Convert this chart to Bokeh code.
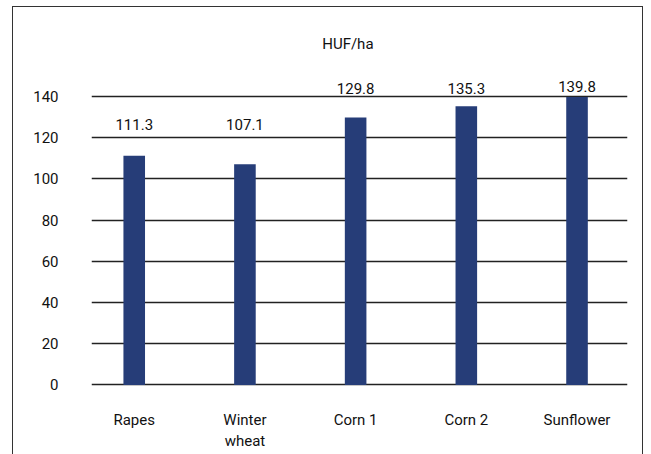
from bokeh.plotting import figure
from bokeh.models import Range1d, FixedTicker, Label, ColumnDataSource, InlineStyleSheet
from bokeh.core.properties import value
from bokeh.embed import file_html
from bokeh.resources import INLINE

categories = ["Rapes", "Winter\nwheat", "Corn 1", "Corn 2", "Sunflower"]
values = [111.3, 107.1, 129.8, 135.3, 139.8]
value_labels = ["111.3", "107.1", "129.8", "135.3", "139.8"]
y_ticks = [0, 20, 40, 60, 80, 100, 120, 140]
unit_label = "HUF/ha"

FONT = "Roboto"
FS = "15px"
TXT = "#111111"

xs = list(range(len(categories)))
lab_y = [126.5 if v < 120 else max(143.8, v + 5) for v in values]
src = ColumnDataSource(dict(x=xs, top=values, label=value_labels, ly=lab_y))

p = figure(width=651, height=454, output_backend="svg", toolbar_location=None,
           x_range=Range1d(-0.386, 4.456), y_range=Range1d(-1.7, 176.9),
           min_border_left=91, min_border_right=24, min_border_top=20, min_border_bottom=66)
p.outline_line_color = None
p.background_fill_color = "white"
p.border_fill_color = "white"

p.vbar(x="x", top="top", width=0.195, bottom=0, source=src, fill_color="#263d78", line_color=None)
p.text(x="x", y="ly", text="label", source=src, text_align="center", text_baseline="middle",
       text_font=value(FONT), text_font_size=value(FS), text_color=TXT)

p.xgrid.grid_line_color = None
p.ygrid.ticker = FixedTicker(ticks=y_ticks)
p.ygrid.grid_line_color = "#222222"
p.ygrid.grid_line_width = 1.3
p.ygrid.level = "underlay"

p.yaxis.ticker = FixedTicker(ticks=y_ticks)
p.yaxis.axis_line_color = None
p.yaxis.major_tick_line_color = None
p.yaxis.minor_tick_line_color = None
p.yaxis.major_label_standoff = 27
p.yaxis.major_label_text_font = FONT
p.yaxis.major_label_text_font_size = FS
p.yaxis.major_label_text_color = TXT

p.xaxis.ticker = FixedTicker(ticks=xs)
p.xaxis.major_label_overrides = {i: c for i, c in enumerate(categories)}
p.xaxis.axis_line_color = None
p.xaxis.major_tick_line_color = None
p.xaxis.minor_tick_line_color = None
p.xaxis.major_label_standoff = 16
p.xaxis.major_label_text_font = FONT
p.xaxis.major_label_text_font_size = FS
p.xaxis.major_label_text_color = TXT

p.add_layout(Label(x=1.93, y=165.7, text=unit_label, text_align="center", text_baseline="middle",
                   text_font=FONT, text_font_size=FS, text_color=TXT))

# outer frame of the figure (bottom edge lies below the visible window)
p.stylesheets = [InlineStyleSheet(css="""
:host { position: relative; }
:host::after { content: ""; position: absolute; left: 12px; top: 6px; width: 631px; height: 480px;
  border: 1.5px solid #333333; box-sizing: border-box; pointer-events: none; z-index: 10; }
""")]

open("out.html", "w").write(file_html(p, INLINE))
